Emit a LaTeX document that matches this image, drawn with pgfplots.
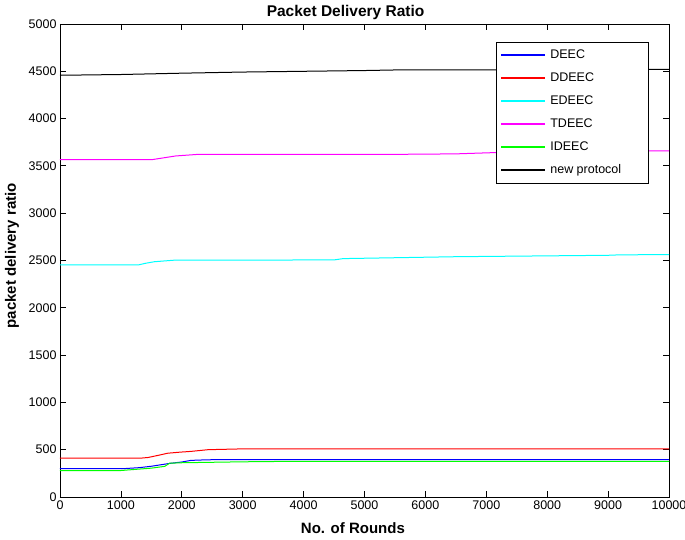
\documentclass[border=0pt]{standalone}
\usepackage{fontspec}
\setmainfont{Liberation Sans}
\usepackage{pgfplots}
\pgfplotsset{compat=1.18}
\definecolor{mblue}{rgb}{0,0,1}
\definecolor{mred}{rgb}{1,0,0}
\definecolor{mcyan}{rgb}{0,1,1}
\definecolor{mmag}{rgb}{1,0,1}
\definecolor{mgreen}{rgb}{0,1,0}
\newcommand{\lentry}[1]{\makebox[94pt][l]{\hspace*{3pt}#1}}
\begin{document}
\begin{tikzpicture}
\path[use as bounding box] (-60pt,-43pt) rectangle (625pt,497pt);
\begin{axis}[
  at={(0pt,0pt)}, anchor=south west,
  scale only axis, width=609pt, height=473pt,
  xmin=0, xmax=10000, ymin=0, ymax=5000,
  xtick={0,1000,...,10000}, ytick={0,500,...,5000},
  scaled x ticks=false, scaled y ticks=false,
  /pgf/number format/assume math mode=true,
  /pgf/number format/set thousands separator={},
  tick label style={font=\fontsize{12.5}{14}\selectfont},
  tick align=inside, major tick length=6pt,
  xtick pos=both, ytick pos=both,
  axis line style={line width=0.8pt},
  tick style={line width=0.8pt, black},
  xlabel={\textbf{No. of Rounds}},
  ylabel={\textbf{packet delivery ratio}},
  label style={font=\fontsize{15}{17}\selectfont},
  xlabel style={at={(axis description cs:0.481,0)}, anchor=center, yshift=-31pt},
  ylabel style={at={(axis description cs:0,0.51)}, anchor=center, yshift=48pt},
  title={\textbf{Packet Delivery Ratio}},
  title style={font=\fontsize{15.5}{17}\selectfont, at={(axis description cs:0.469,1)}, anchor=base, yshift=1pt},
  legend cell align=left,
  legend style={at={(rel axis cs:0.716,0.962)}, anchor=north west,
    font=\fontsize{12.5}{14}\selectfont, line width=0.6pt,
    row sep=8.7pt, inner xsep=5pt, inner ysep=6pt},
  legend image code/.code={\fill[#1] (2pt,-0.5pt) rectangle (45pt,0.5pt);},
  every axis plot/.append style={line width=1pt},
]
\addplot[color=mblue] coordinates {
(0,300) (1050,300) (1300,310) (1500,325) (1700,345) (1800,355) (2000,370) (2150,387) (2400,393) (2600,395) (10000,395)};
\addlegendentry{\lentry{DEEC}}
\addplot[color=mred] coordinates {
(0,412) (1350,412) (1450,418) (1610,440) (1770,463) (1990,475) (2150,482) (2430,500) (2950,508) (10000,508)};
\addlegendentry{\lentry{DDEEC}}
\addplot[color=mcyan] coordinates {
(0,2455) (1300,2455) (1400,2470) (1550,2487) (1870,2503) (4500,2506) (4650,2520) (6500,2540) (9000,2555) (9200,2560) (10000,2562)};
\addlegendentry{\lentry{EDEEC}}
\addplot[color=mmag] coordinates {
(0,3567) (1520,3567) (1700,3585) (1900,3605) (2270,3622) (5500,3622) (6500,3627) (7200,3642) (8000,3655) (10000,3660)};
\addlegendentry{\lentry{TDEEC}}
\addplot[color=mgreen] coordinates {
(0,280) (1000,280) (1300,295) (1500,305) (1720,324) (1800,357) (2000,362) (2500,367) (3000,372) (3800,377) (10000,377)};
\addlegendentry{\lentry{IDEEC}}
\addplot[color=black] coordinates {
(0,4458) (1000,4466) (2000,4480) (3000,4492) (4000,4500) (5000,4508) (5500,4514) (7000,4515) (8500,4518) (10000,4520)};
\addlegendentry{\lentry{new protocol}}
\end{axis}
\end{tikzpicture}
\end{document}
